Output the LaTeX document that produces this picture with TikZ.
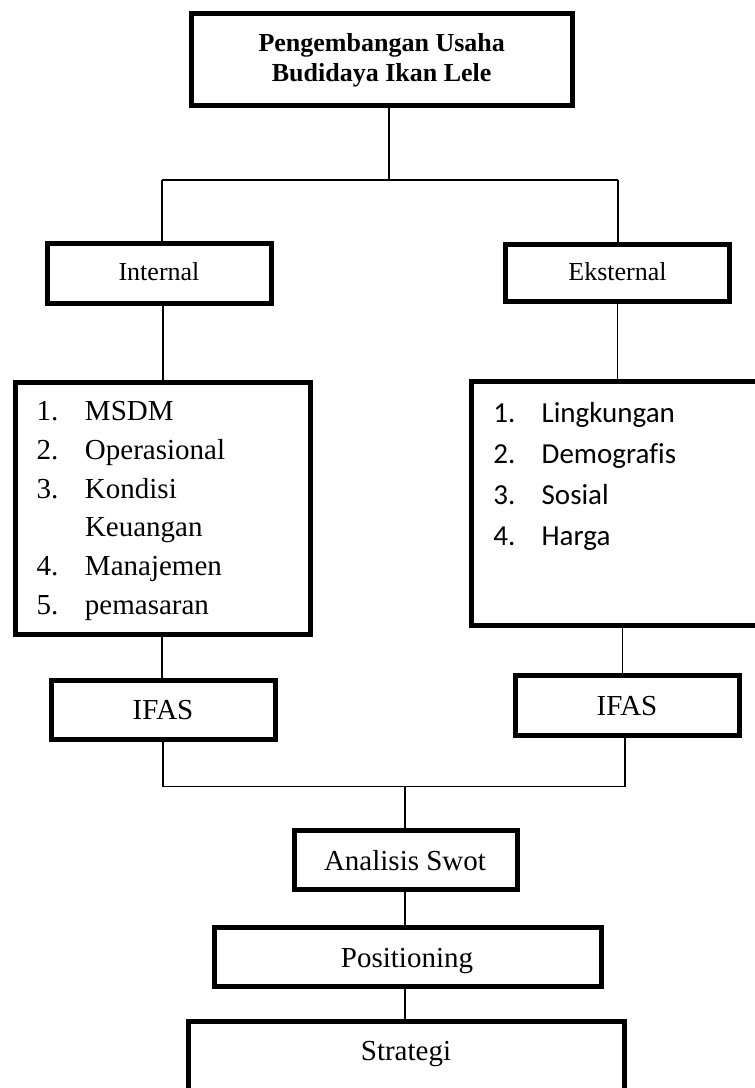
\documentclass[tikz,border=0pt]{standalone}
\usepackage{fontspec}
\setmainfont{Liberation Serif}
\newfontfamily\calibri[Ligatures=NoCommon]{Carlito}
\begin{document}
\begin{tikzpicture}[x=1pt,y=-1pt,
  box/.style={draw, line width=5pt, inner sep=0pt, outer sep=0pt},
  conn/.style={draw, line width=1.4pt},
  lbl/.style={inner sep=0pt, outer sep=0pt, anchor=base},
  fA/.style={font=\fontsize{26}{30}\selectfont},
  fB/.style={font=\fontsize{29}{35}\selectfont}]
\useasboundingbox (0,0) rectangle (755,1088);
\clip (0,0) rectangle (755,1088);
\fill[white] (0,0) rectangle (755,1088);

% boxes
\node[box, minimum width=381.5pt, minimum height=91.5pt] (top) at (381.75,59.25) {};
\node[box, minimum width=224pt, minimum height=60pt] (intbox) at (159.5,273.5) {};
\node[box, minimum width=224pt, minimum height=57pt] (extbox) at (617.5,272.5) {};
\node[box, minimum width=294.5pt, minimum height=252pt] (intlist) at (162.75,508) {};
\node[box, minimum width=329pt, minimum height=244pt] (extlist) at (635.5,503.5) {};
\node[box, minimum width=224pt, minimum height=59.5pt] (ifasL) at (163.5,709.75) {};
\node[box, minimum width=224pt, minimum height=60pt] (ifasR) at (627.5,705.5) {};
\node[box, minimum width=223pt, minimum height=59pt] (swot) at (405.5,860) {};
\node[box, minimum width=387pt, minimum height=59pt] (pos) at (407.5,957) {};
\node[box, minimum width=436pt, minimum height=88.5pt] (strat) at (406,1065.75) {};

% texts
\node[lbl, font=\fontsize{26}{30}\selectfont\bfseries] (title1) at (381.7,51.7) {Pengembangan Usaha};
\node[lbl, font=\fontsize{26}{30}\selectfont\bfseries] (title2) at (381.7,81.7) {Budidaya Ikan Lele};
\node[lbl, fA] (tint) at (159,280) {Internal};
\node[lbl, fA] (text) at (617.5,280) {Eksternal};
\node[lbl, anchor=base west, font=\fontsize{29}{38.7}\selectfont] (tintlist) at (36.7,420.7) {%
  \begin{tabular}[t]{@{}p{48.3pt}@{}l@{}}
  1. & MSDM\\
  2. & Operasional\\
  3. & Kondisi\\
     & Keuangan\\
  4. & Manajemen\\
  5. & pemasaran
  \end{tabular}};
\node[lbl, anchor=base west, font=\calibri\fontsize{29}{41.3}\selectfont] (textlist) at (493.3,422) {%
  \begin{tabular}[t]{@{}p{48.4pt}@{}l@{}}
  1. & Lingkungan\\
  2. & Demografis\\
  3. & Sosial\\
  4. & Harga
  \end{tabular}};
\node[lbl, fB] (tifasL) at (163,719) {IFAS};
\node[lbl, fB] (tifasR) at (627,715) {IFAS};
\node[lbl, fB] (tswot) at (405,870) {Analisis Swot};
\node[lbl, fB] (tpos) at (407,967) {Positioning};
\node[lbl, fB] (tstrat) at (406,1060) {Strategi};

% junction coordinates
\coordinate (jt) at (389,180);
\coordinate (jl) at (162,180);
\coordinate (jr) at (618,180);
\coordinate (xa) at (163,0);
\coordinate (xb) at (617.3,0);
\coordinate (xc) at (162,0);
\coordinate (xd) at (622.7,0);
\coordinate (jbl) at (163,786.5);
\coordinate (jbr) at (625,786.5);
\coordinate (jbm) at (405,786.5);

% connectors
\draw[conn] (top.south -| jt) -- (jt);
\draw[conn] (jl) -- (jr);
\draw[conn] (jl) -- (jl |- intbox.north);
\draw[conn] (jr) -- (jr |- extbox.north);
\draw[conn] (intbox.south -| xa) -- (intlist.north -| xa);
\draw[conn] (extbox.south -| xb) -- (extlist.north -| xb);
\draw[conn] (intlist.south -| xc) -- (ifasL.north -| xc);
\draw[conn] (extlist.south -| xd) -- (ifasR.north -| xd);
\draw[conn] (ifasL.south -| jbl) -- (jbl) -- (jbr) -- (ifasR.south -| jbr);
\draw[conn] (jbm) -- (swot.north -| jbm);
\draw[conn] (swot.south -| jbm) -- (pos.north -| jbm);
\draw[conn] (pos.south -| jbm) -- (strat.north -| jbm);
\end{tikzpicture}
\end{document}
